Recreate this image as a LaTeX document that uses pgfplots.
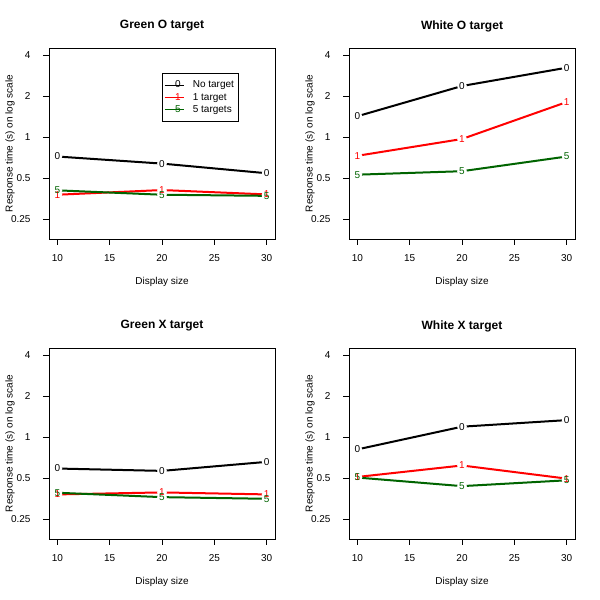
\documentclass[border=0pt]{standalone}
\usepackage{pgfplots}
\pgfplotsset{compat=1.18}
\usepackage{pgfplotstable}
\usepackage{fontspec}
\setmainfont{Liberation Sans}
\definecolor{rdarkgreen}{HTML}{006400}

% response times (s) per display size: no target, 1 target, 5 targets
\pgfplotstableread{
size none one five
10 0.718 0.376 0.405
20 0.637 0.407 0.376
30 0.541 0.378 0.369
}\greenO
\pgfplotstableread{
size none one five
10 1.42 0.727 0.528
20 2.37 0.966 0.560
30 3.23 1.805 0.718
}\whiteO
\pgfplotstableread{
size none one five
10 0.586 0.378 0.389
20 0.563 0.391 0.361
30 0.656 0.378 0.351
}\greenX
\pgfplotstableread{
size none one five
10 0.810 0.508 0.503
20 1.190 0.617 0.435
30 1.330 0.494 0.480
}\whiteX

\begin{document}
\begin{tikzpicture}[font=\fontsize{10}{12}\selectfont]
\useasboundingbox (0,0) rectangle (600pt,600pt);

% ---------------- Green O target
\begin{axis}[
    ymode=log, log basis y=2,
    scale only axis, width=226pt, height=191pt,
    xmin=9.2, xmax=30.8, ymin=0.1777, ymax=4.51,
    xtick={10,15,20,25,30}, xticklabels={10,15,20,25,30},
    ytick={0.25,0.5,1,2,4}, yticklabels={0.25,0.5,1,2,4},
    xtick pos=bottom, ytick pos=left, tick align=outside, major tick length=6pt,
    tick style={black, line width=0.6pt},
    axis line style={black, line width=0.6pt},
    xticklabel style={yshift=-6pt}, yticklabel style={xshift=-9pt},
    xlabel={Display size},
    ylabel={Response time (s) on log scale},
    xlabel style={at={(axis description cs:0.5,-0.2251)}, anchor=center},
    ylabel style={at={(axis description cs:-0.1726,0.5)}, anchor=center},
    title style={at={(axis description cs:0.5,1.0838)}, anchor=center, font=\fontsize{12}{14}\selectfont\bfseries},
    title={Green O target},
    legend style={at={(axis description cs:0.5,0.869)}, anchor=north west, draw=black, line width=0.5pt,
      row sep=0pt, column sep=7pt, inner xsep=2pt, inner ysep=5.5pt},
    legend cell align=left,
    at={(49pt,361pt)}, anchor=south west,
  ]
  \addplot[black, line width=2pt, mark=*, mark size=4.8pt, mark options={draw=white, fill=white, line width=0.1pt},
    legend image code/.code={\draw[black, line width=0.6pt] (0pt,0pt) -- (19pt,0pt); \node[black, inner sep=0pt] at (9.5pt,0pt) {0};}]
    table[x=size, y=none] {\greenO};
  \addlegendentry{No target}
  \addplot[red, line width=2pt, mark=*, mark size=4.8pt, mark options={draw=white, fill=white, line width=0.1pt},
    legend image code/.code={\draw[red, line width=0.6pt] (0pt,0pt) -- (19pt,0pt); \node[red, inner sep=0pt] at (9.5pt,0pt) {1};}]
    table[x=size, y=one] {\greenO};
  \addlegendentry{1 target}
  \addplot[rdarkgreen, line width=2pt, mark=*, mark size=4.8pt, mark options={draw=white, fill=white, line width=0.1pt},
    legend image code/.code={\draw[rdarkgreen, line width=0.6pt] (0pt,0pt) -- (19pt,0pt); \node[rdarkgreen, inner sep=0pt] at (9.5pt,0pt) {5};}]
    table[x=size, y=five] {\greenO};
  \addlegendentry{5 targets}
  \addplot[forget plot, only marks, black, mark=text, text mark={0}, text mark as node=true,
    text mark style={font=\fontsize{10}{12}\selectfont, inner sep=0pt, text=black}] table[x=size, y=none] {\greenO};
  \addplot[forget plot, only marks, red, mark=text, text mark={1}, text mark as node=true,
    text mark style={font=\fontsize{10}{12}\selectfont, inner sep=0pt, text=red}] table[x=size, y=one] {\greenO};
  \addplot[forget plot, only marks, rdarkgreen, mark=text, text mark={5}, text mark as node=true,
    text mark style={font=\fontsize{10}{12}\selectfont, inner sep=0pt, text=rdarkgreen}] table[x=size, y=five] {\greenO};
\end{axis}

% ---------------- White O target
\begin{axis}[
    ymode=log, log basis y=2,
    scale only axis, width=226pt, height=191pt,
    xmin=9.2, xmax=30.8, ymin=0.1777, ymax=4.51,
    xtick={10,15,20,25,30}, xticklabels={10,15,20,25,30},
    ytick={0.25,0.5,1,2,4}, yticklabels={0.25,0.5,1,2,4},
    xtick pos=bottom, ytick pos=left, tick align=outside, major tick length=6pt,
    tick style={black, line width=0.6pt},
    axis line style={black, line width=0.6pt},
    xticklabel style={yshift=-6pt}, yticklabel style={xshift=-9pt},
    xlabel={Display size},
    ylabel={Response time (s) on log scale},
    xlabel style={at={(axis description cs:0.5,-0.2251)}, anchor=center},
    ylabel style={at={(axis description cs:-0.1726,0.5)}, anchor=center},
    title style={at={(axis description cs:0.5,1.0838)}, anchor=center, font=\fontsize{12}{14}\selectfont\bfseries},
    title={White O target},
    at={(349pt,361pt)}, anchor=south west,
  ]
  \addplot[black, line width=2pt, mark=*, mark size=4.8pt, mark options={draw=white, fill=white, line width=0.1pt}] table[x=size, y=none] {\whiteO};
  \addplot[red, line width=2pt, mark=*, mark size=4.8pt, mark options={draw=white, fill=white, line width=0.1pt}] table[x=size, y=one] {\whiteO};
  \addplot[rdarkgreen, line width=2pt, mark=*, mark size=4.8pt, mark options={draw=white, fill=white, line width=0.1pt}] table[x=size, y=five] {\whiteO};
  \addplot[only marks, black, mark=text, text mark={0}, text mark as node=true,
    text mark style={font=\fontsize{10}{12}\selectfont, inner sep=0pt, text=black}] table[x=size, y=none] {\whiteO};
  \addplot[only marks, red, mark=text, text mark={1}, text mark as node=true,
    text mark style={font=\fontsize{10}{12}\selectfont, inner sep=0pt, text=red}] table[x=size, y=one] {\whiteO};
  \addplot[only marks, rdarkgreen, mark=text, text mark={5}, text mark as node=true,
    text mark style={font=\fontsize{10}{12}\selectfont, inner sep=0pt, text=rdarkgreen}] table[x=size, y=five] {\whiteO};
\end{axis}

% ---------------- Green X target
\begin{axis}[
    ymode=log, log basis y=2,
    scale only axis, width=226pt, height=191pt,
    xmin=9.2, xmax=30.8, ymin=0.1777, ymax=4.51,
    xtick={10,15,20,25,30}, xticklabels={10,15,20,25,30},
    ytick={0.25,0.5,1,2,4}, yticklabels={0.25,0.5,1,2,4},
    xtick pos=bottom, ytick pos=left, tick align=outside, major tick length=6pt,
    tick style={black, line width=0.6pt},
    axis line style={black, line width=0.6pt},
    xticklabel style={yshift=-6pt}, yticklabel style={xshift=-9pt},
    xlabel={Display size},
    ylabel={Response time (s) on log scale},
    xlabel style={at={(axis description cs:0.5,-0.2251)}, anchor=center},
    ylabel style={at={(axis description cs:-0.1726,0.5)}, anchor=center},
    title style={at={(axis description cs:0.5,1.0838)}, anchor=center, font=\fontsize{12}{14}\selectfont\bfseries},
    title={Green X target},
    at={(49pt,61pt)}, anchor=south west,
  ]
  \addplot[black, line width=2pt, mark=*, mark size=4.8pt, mark options={draw=white, fill=white, line width=0.1pt}] table[x=size, y=none] {\greenX};
  \addplot[red, line width=2pt, mark=*, mark size=4.8pt, mark options={draw=white, fill=white, line width=0.1pt}] table[x=size, y=one] {\greenX};
  \addplot[rdarkgreen, line width=2pt, mark=*, mark size=4.8pt, mark options={draw=white, fill=white, line width=0.1pt}] table[x=size, y=five] {\greenX};
  \addplot[only marks, black, mark=text, text mark={0}, text mark as node=true,
    text mark style={font=\fontsize{10}{12}\selectfont, inner sep=0pt, text=black}] table[x=size, y=none] {\greenX};
  \addplot[only marks, red, mark=text, text mark={1}, text mark as node=true,
    text mark style={font=\fontsize{10}{12}\selectfont, inner sep=0pt, text=red}] table[x=size, y=one] {\greenX};
  \addplot[only marks, rdarkgreen, mark=text, text mark={5}, text mark as node=true,
    text mark style={font=\fontsize{10}{12}\selectfont, inner sep=0pt, text=rdarkgreen}] table[x=size, y=five] {\greenX};
\end{axis}

% ---------------- White X target
\begin{axis}[
    ymode=log, log basis y=2,
    scale only axis, width=226pt, height=191pt,
    xmin=9.2, xmax=30.8, ymin=0.1777, ymax=4.51,
    xtick={10,15,20,25,30}, xticklabels={10,15,20,25,30},
    ytick={0.25,0.5,1,2,4}, yticklabels={0.25,0.5,1,2,4},
    xtick pos=bottom, ytick pos=left, tick align=outside, major tick length=6pt,
    tick style={black, line width=0.6pt},
    axis line style={black, line width=0.6pt},
    xticklabel style={yshift=-6pt}, yticklabel style={xshift=-9pt},
    xlabel={Display size},
    ylabel={Response time (s) on log scale},
    xlabel style={at={(axis description cs:0.5,-0.2251)}, anchor=center},
    ylabel style={at={(axis description cs:-0.1726,0.5)}, anchor=center},
    title style={at={(axis description cs:0.5,1.0838)}, anchor=center, font=\fontsize{12}{14}\selectfont\bfseries},
    title={White X target},
    at={(349pt,61pt)}, anchor=south west,
  ]
  \addplot[black, line width=2pt, mark=*, mark size=4.8pt, mark options={draw=white, fill=white, line width=0.1pt}] table[x=size, y=none] {\whiteX};
  \addplot[red, line width=2pt, mark=*, mark size=4.8pt, mark options={draw=white, fill=white, line width=0.1pt}] table[x=size, y=one] {\whiteX};
  \addplot[rdarkgreen, line width=2pt, mark=*, mark size=4.8pt, mark options={draw=white, fill=white, line width=0.1pt}] table[x=size, y=five] {\whiteX};
  \addplot[only marks, black, mark=text, text mark={0}, text mark as node=true,
    text mark style={font=\fontsize{10}{12}\selectfont, inner sep=0pt, text=black}] table[x=size, y=none] {\whiteX};
  \addplot[only marks, red, mark=text, text mark={1}, text mark as node=true,
    text mark style={font=\fontsize{10}{12}\selectfont, inner sep=0pt, text=red}] table[x=size, y=one] {\whiteX};
  \addplot[only marks, rdarkgreen, mark=text, text mark={5}, text mark as node=true,
    text mark style={font=\fontsize{10}{12}\selectfont, inner sep=0pt, text=rdarkgreen}] table[x=size, y=five] {\whiteX};
\end{axis}
\end{tikzpicture}
\end{document}
